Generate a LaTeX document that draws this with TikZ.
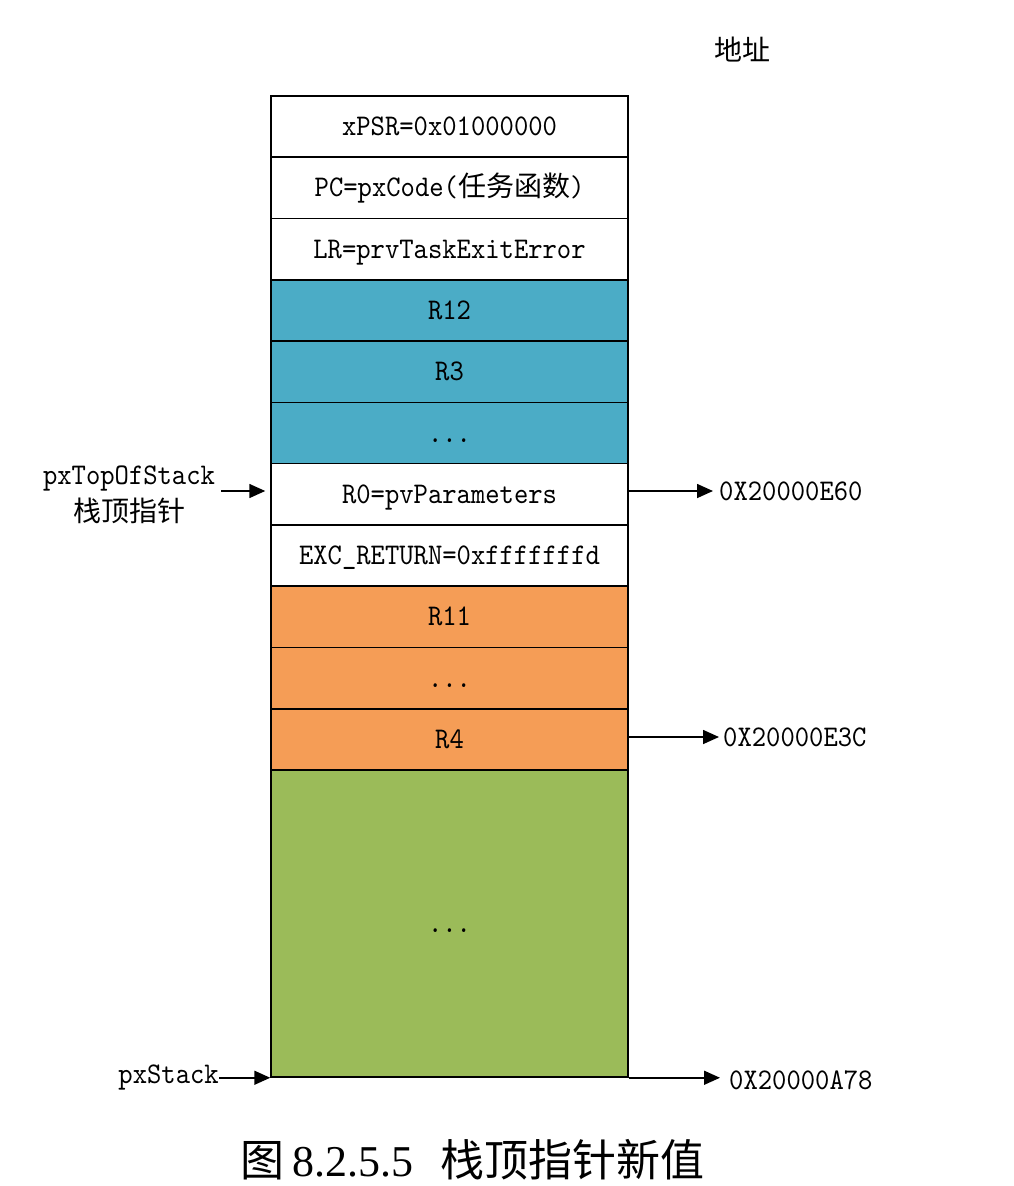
\documentclass[tikz,border=0pt]{standalone}
\usepackage{fontspec}
\setmonofont{lmmono10-regular}[Extension=.otf,FakeStretch=0.91]
\newfontfamily\cjk{Noto Sans CJK SC}
\newfontfamily\capserif{Liberation Serif}
\usetikzlibrary{arrows.meta}
\definecolor{stkblue}{HTML}{4BACC6}
\definecolor{stkorange}{HTML}{F59D56}
\definecolor{stkgreen}{HTML}{9BBB59}
\tikzset{
  x=1pt,y=-1pt,
  rowbox/.style={draw=black,line width=1.5pt,minimum width=357pt,minimum height=61.27pt,
    inner sep=0pt,text height=22pt,text depth=4pt,font=\ttfamily\fontsize{30}{30}\selectfont},
  lbl/.style={inner sep=0pt,font=\ttfamily\fontsize{30}{30}\selectfont},
  cjklbl/.style={inner sep=0pt,font=\cjk\fontsize{28}{28}\selectfont},
  ptr/.style={line width=1.6pt,-{Triangle[length=16pt,width=14pt]}},
}
\begin{document}
\begin{tikzpicture}
\useasboundingbox (0,0) rectangle (1014,1186);
\fill[white] (0,0) rectangle (1014,1186);
% stack rows
\node[rowbox] (xpsr) at (449.5,126.6) {xPSR=0x01000000};
\node[rowbox] (pc) at (449.5,187.9) {PC=pxCode({\cjk\fontsize{28}{28}\selectfont 任务函数})};
\node[rowbox] (lr) at (449.5,249.2) {LR=prvTaskExitError};
\node[rowbox,fill=stkblue] (r12) at (449.5,310.5) {R12};
\node[rowbox,fill=stkblue] (r3) at (449.5,371.8) {R3};
\node[rowbox,fill=stkblue] (dotsb) at (449.5,433.0) {...};
\node[rowbox] (r0) at (449.5,494.3) {R0=pvParameters};
\node[rowbox] (exc) at (449.5,555.6) {EXC\_RETURN=0xfffffffd};
\node[rowbox,fill=stkorange] (r11) at (449.5,616.9) {R11};
\node[rowbox,fill=stkorange] (dotso) at (449.5,678.2) {...};
\node[rowbox,fill=stkorange] (r4) at (449.5,739.4) {R4};
\node[rowbox,fill=stkgreen,minimum height=307pt] (free) at (449.5,923.5) {...};
% address header
\node[cjklbl] (addr) at (742,50) {地址};
% left labels
\node[lbl] (tos) at (129,478) {pxTopOfStack};
\node[cjklbl] (tostxt) at (129,511) {栈顶指针};
\coordinate (tosstart) at (221,491);
\draw[ptr,shorten >=5pt] (tosstart) -- (tosstart -| r0.west);
\node[lbl,anchor=east] (pxs) at (219,1077) {pxStack};
\draw[ptr] (pxs.east |- free.south west) -- (free.south west);
% right labels
\node[lbl,anchor=west] (e60) at (719,491) {0X20000E60};
\draw[ptr,shorten >=6pt] (r0.east |- e60.west) -- (e60.west);
\node[lbl,anchor=west] (e3c) at (723,737) {0X20000E3C};
\draw[ptr,shorten >=4pt] (r4.east |- e3c.west) -- (e3c.west);
\node[lbl,anchor=west] (a78) at (729,1080) {0X20000A78};
\draw[ptr,shorten >=9pt] (free.south east) -- (a78.west |- free.south east);
% caption
\node[inner sep=0pt] (cap) at (472,1160) {{\cjk\fontsize{44}{44}\selectfont 图}\hspace{8pt}{\capserif\fontsize{44}{44}\selectfont 8.2.5.5}\hspace{27pt}{\cjk\fontsize{44}{44}\selectfont 栈顶指针新值}};
\end{tikzpicture}
\end{document}
